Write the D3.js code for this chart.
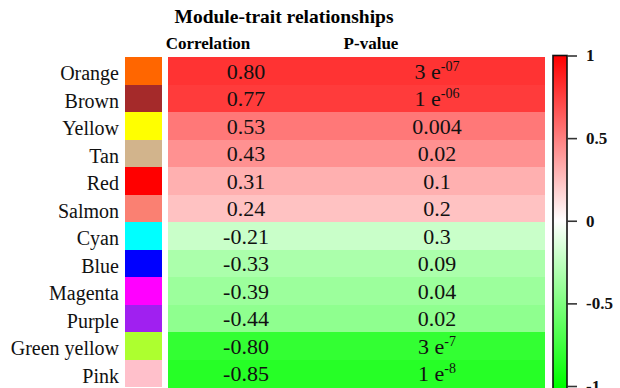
<!DOCTYPE html>
<html>
<head>
<meta charset="utf-8">
<script src="https://cdn.jsdelivr.net/npm/d3@7"></script>
<style>
  body { margin: 0; background: #fff; }
  svg { display: block; }
</style>
</head>
<body>
<svg id="chart" width="620" height="388"></svg>
<script>
// module names, swatch colours and values
var modules = ["Orange", "Brown", "Yellow", "Tan", "Red", "Salmon", "Cyan", "Blue",
    "Magenta", "Purple", "Green yellow", "Pink"];
var swatchColors = ["#ff6600", "#a52a2a", "#ffff00", "#d2b48c", "#ff0000", "#fa8072",
    "#00ffff", "#0000ff", "#ff00ff", "#a020f0", "#adff2f", "#ffc0cb"];
var correlations = [0.80, 0.77, 0.53, 0.43, 0.31, 0.24, -0.21, -0.33, -0.39, -0.44, -0.80, -0.85];
var pValues = ["3 e-07", "1 e-06", "0.004", "0.02", "0.1", "0.2", "0.3", "0.09", "0.04", "0.02", "3 e-7", "1 e-8"];
var columns = ["Correlation", "P-value"];
var colorTicks = [1, 0.5, 0, -0.5, -1];

var serif = "Liberation Serif";
var svg = d3.select("#chart");
var margin = { left: 168, top: 57, right: 76, bottom: 1 };
var width = 620, height = 388;

var y = d3.scaleBand()
    .domain(modules)
    .range([margin.top, height - margin.bottom]);

var x = d3.scaleBand()
    .domain(columns)
    .range([margin.left, width - margin.right]);

var color = d3.scaleLinear()
    .domain([-1, 0, 1])
    .range(["#00ff00", "#ffffff", "#ff0000"]);

// title + column headers
svg.append("text")
    .attr("x", 284).attr("y", 23)
    .attr("text-anchor", "middle")
    .style("font-family", serif)
    .attr("font-weight", "bold")
    .attr("font-size", 19.5)
    .text("Module-trait relationships");

var headerX = { "Correlation": 208, "P-value": 371 };
svg.selectAll(".header")
    .data(columns)
    .enter().append("text")
    .attr("class", "header")
    .attr("x", function(d) { return headerX[d]; })
    .attr("y", 49)
    .attr("text-anchor", "middle")
    .style("font-family", serif)
    .attr("font-weight", "bold")
    .attr("font-size", 17)
    .text(function(d) { return d; });

// row labels and module swatches
svg.selectAll(".label")
    .data(modules)
    .enter().append("text")
    .attr("class", "label")
    .attr("x", 119)
    .attr("y", function(d) { return y(d) + y.bandwidth() / 2; })
    .attr("dy", "0.48em")
    .attr("text-anchor", "end")
    .style("font-family", serif)
    .attr("font-size", 20)
    .attr("fill", "#111")
    .text(function(d) { return d; });

svg.selectAll(".swatch")
    .data(modules)
    .enter().append("rect")
    .attr("class", "swatch")
    .attr("x", 125)
    .attr("width", 37)
    .attr("y", function(d) { return y(d); })
    .attr("height", y.bandwidth())
    .attr("shape-rendering", "crispEdges")
    .attr("fill", function(d, i) { return swatchColors[i]; });

// heatmap cells
var cells = [];
modules.forEach(function(m, i) {
    columns.forEach(function(c) {
        cells.push({ module: m, column: c, r: correlations[i], p: pValues[i] });
    });
});

svg.selectAll(".cell")
    .data(cells)
    .enter().append("rect")
    .attr("class", "cell")
    .attr("x", function(d) { return x(d.column); })
    .attr("width", x.bandwidth() + 0.5)
    .attr("y", function(d) { return y(d.module); })
    .attr("height", y.bandwidth() + 0.5)
    .attr("shape-rendering", "crispEdges")
    .attr("fill", function(d) { return color(d.r); });

var cellText = svg.selectAll(".val")
    .data(cells)
    .enter().append("text")
    .attr("class", "val")
    .attr("x", function(d) { return x(d.column) + x.bandwidth() / 2 - (d.column === "Correlation" ? 16 : 13); })
    .attr("y", function(d) { return y(d.module) + y.bandwidth() / 2; })
    .attr("dy", "0.36em")
    .attr("text-anchor", "middle")
    .style("font-family", serif)
    .attr("font-size", 22)
    .attr("fill", "#111");

cellText.each(function(d) {
    var t = d3.select(this);
    if (d.column === "Correlation") {
        t.text(d3.format(".2f")(d.r).replace("−", "-"));
        return;
    }
    var parts = d.p.split(" e");
    if (parts.length === 1) {
        t.text(d.p);
    } else {
        t.append("tspan").text(parts[0] + " e");
        t.append("tspan")
            .attr("font-size", 14)
            .attr("dy", "-8")
            .text(parts[1]);
    }
});

// colour bar
var cb = d3.scaleLinear().domain([1, -1]).range([55.5, 386]);
var defs = svg.append("defs");
var grad = defs.append("linearGradient")
    .attr("id", "cbar")
    .attr("gradientUnits", "userSpaceOnUse")
    .attr("x1", 0).attr("x2", 0)
    .attr("y1", cb(1)).attr("y2", cb(-1));
grad.selectAll("stop")
    .data([1, 0, -1])
    .enter().append("stop")
    .attr("offset", function(d) { return (cb(d) - cb(1)) / (cb(-1) - cb(1)); })
    .attr("stop-color", function(d) { return color(d); });

svg.append("rect")
    .attr("x", 553).attr("y", cb(1))
    .attr("width", 14).attr("height", 345)
    .attr("fill", "url(#cbar)")
    .attr("stroke", "#111")
    .attr("stroke-width", 1.6);

var axis = svg.append("g")
    .attr("transform", "translate(567,0)")
    .call(d3.axisRight(cb).tickValues(colorTicks).tickSize(10).tickPadding(9)
        .tickFormat(function(d) { return d3.format("")(d).replace("−", "-"); }));
axis.attr("font-family", serif);
axis.select(".domain").remove();
axis.selectAll("line").attr("stroke", "#333").attr("stroke-width", 1.6);
axis.selectAll("text")
    .style("font-family", serif)
    .attr("font-size", 17)
    .attr("font-weight", "bold")
    .attr("fill", "#111");
</script>
</body>
</html>
